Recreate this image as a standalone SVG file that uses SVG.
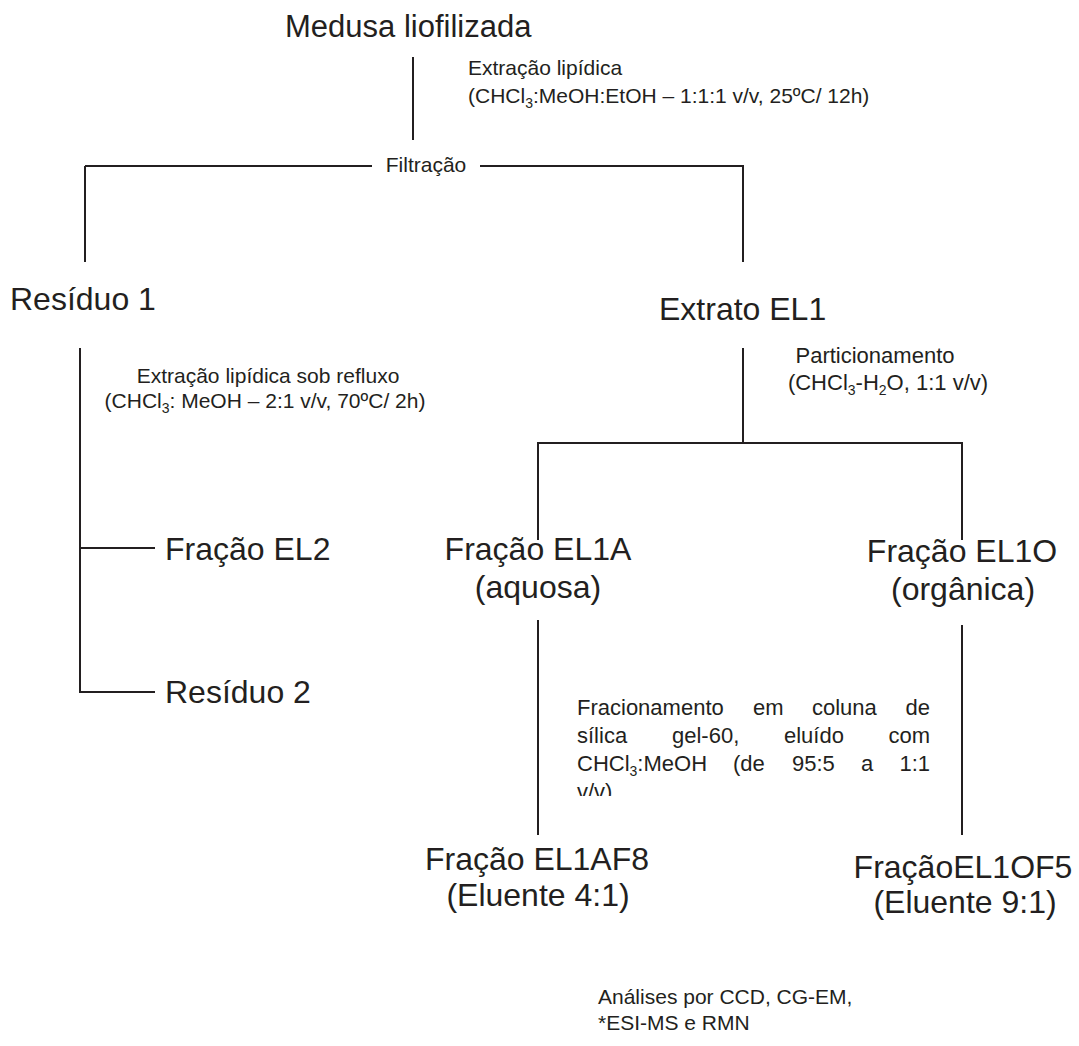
<svg xmlns="http://www.w3.org/2000/svg" width="1079" height="1046" viewBox="0 0 1079 1046">
<style>
text{font-family:"Liberation Sans",Arial,sans-serif;fill:#231f20}
.title{font-size:31px}
.big{font-size:32px}
.sm{font-size:21px}
.md{font-size:22px}
.sub{font-size:14px}
.c{text-anchor:middle}
.e{text-anchor:end}
#connectors line,#connectors polyline{stroke:#231f20;stroke-width:2;fill:none}
</style>
<defs><clipPath id="clipv"><rect x="560" y="770" width="400" height="26"/></clipPath></defs>
<rect width="1079" height="1046" fill="#fff"/>
<g id="connectors">
<line x1="413" y1="57" x2="413" y2="140"/>
<line x1="85" y1="166" x2="372" y2="166"/>
<polyline points="480,166 743,166 743,262"/>
<line x1="85" y1="166" x2="85" y2="262"/>
<polyline points="80,348 80,692 155,692"/>
<line x1="80" y1="548" x2="155" y2="548"/>
<line x1="743" y1="348" x2="743" y2="443"/>
<polyline points="538,540 538,443 962,443 962,540"/>
<line x1="538" y1="620" x2="538" y2="835"/>
<line x1="962" y1="625" x2="962" y2="835"/>
</g>
<g id="n-medusa"><text class="title" x="285" y="37">Medusa liofilizada</text></g>
<g id="l-extracao1"><text class="sm" x="468" y="75">Extração lipídica</text>
<text class="sm" x="468" y="103">(CHCl<tspan class="sub" dy="5">3</tspan><tspan dy="-5">:MeOH:EtOH – 1:1:1 v/v, 25ºC/ 12h)</tspan></text></g>
<g id="l-filtracao"><text class="sm c" x="426" y="172">Filtração</text></g>
<g id="n-residuo1"><text class="big" x="10" y="310">Resíduo 1</text></g>
<g id="n-extrato"><text class="big" x="659" y="320">Extrato EL1</text></g>
<g id="l-refluxo"><text class="sm c" x="268" y="383">Extração lipídica sob refluxo</text>
<text class="sm c" x="265" y="408">(CHCl<tspan class="sub" dy="5">3</tspan><tspan dy="-5">: MeOH – 2:1 v/v, 70ºC/ 2h)</tspan></text></g>
<g id="l-partic"><text class="md c" x="875" y="363">Particionamento</text>
<text class="md c" x="888" y="390">(CHCl<tspan class="sub" dy="5">3</tspan><tspan dy="-5">-H</tspan><tspan class="sub" dy="5">2</tspan><tspan dy="-5">O, 1:1 v/v)</tspan></text></g>
<g id="n-el2"><text class="big" x="165" y="560">Fração EL2</text></g>
<g id="n-residuo2"><text class="big" x="165" y="703">Resíduo 2</text></g>
<g id="n-el1a"><text class="big c" x="538" y="560">Fração EL1A</text><text class="big c" x="538" y="598">(aquosa)</text></g>
<g id="n-el1o"><text class="big c" x="962" y="562">Fração EL1O</text><text class="big c" x="963" y="600">(orgânica)</text></g>
<g id="l-fracion" class="md">
<text class="md" x="577" y="715">Fracionamento</text><text class="md" x="753" y="715">em</text><text class="md" x="812" y="715">coluna</text><text class="md e" x="930" y="715">de</text>
<text class="md" x="577" y="743">sílica</text><text class="md" x="672" y="743">gel-60,</text><text class="md" x="784" y="743">eluído</text><text class="md e" x="930" y="743">com</text>
<text class="md" x="577" y="771">CHCl<tspan class="sub" dy="5">3</tspan><tspan dy="-5">:MeOH</tspan></text><text class="md" x="733" y="771">(de</text><text class="md" x="792" y="771">95:5</text><text class="md" x="861" y="771">a</text><text class="md e" x="930" y="771">1:1</text>
<text class="md" x="577" y="799" clip-path="url(#clipv)">v/v)</text>
</g>
<g id="n-el1af8"><text class="big c" x="537" y="870">Fração EL1AF8</text><text class="big c" x="538" y="906">(Eluente 4:1)</text></g>
<g id="n-el1of5"><text class="big c" x="963" y="878">FraçãoEL1OF5</text><text class="big c" x="965" y="913">(Eluente 9:1)</text></g>
<g id="n-analises"><text class="sm" x="598" y="1004">Análises por CCD, CG-EM,</text><text class="sm" x="598" y="1030">*ESI-MS e RMN</text></g>
</svg>
